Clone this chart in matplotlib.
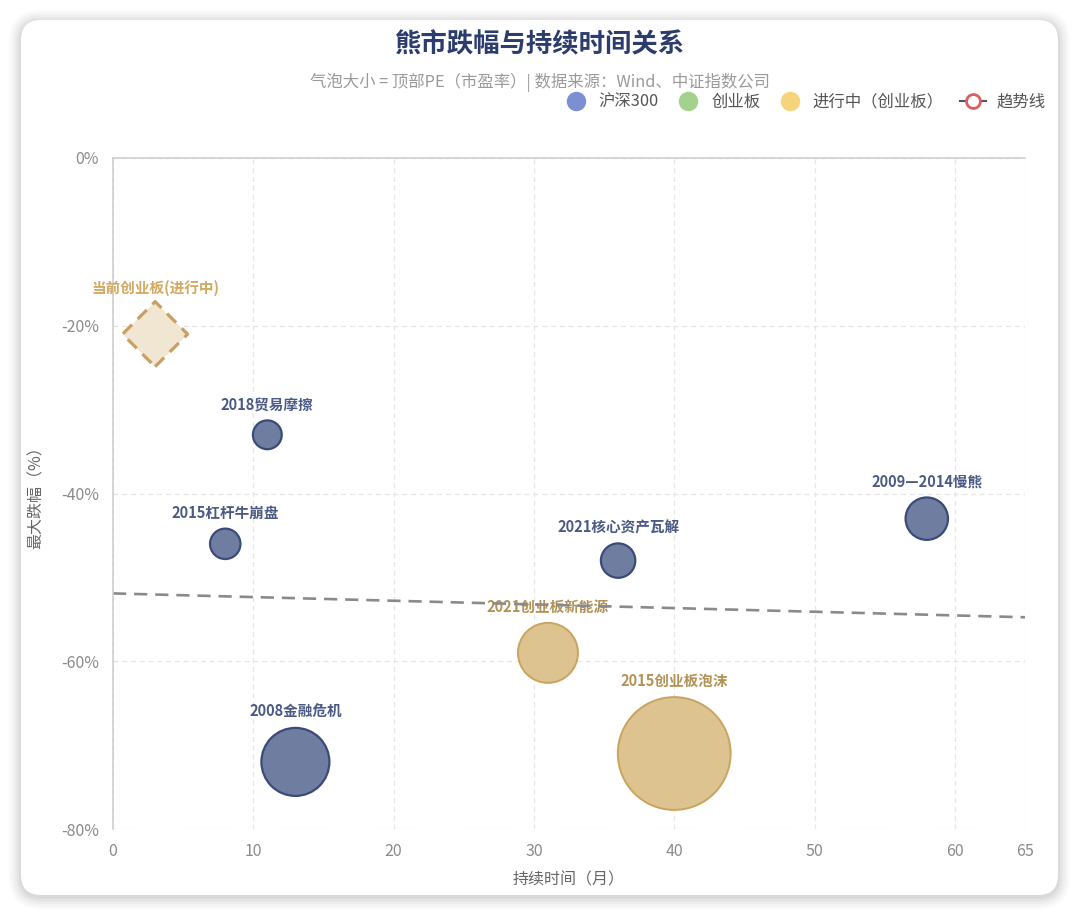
import matplotlib.pyplot as plt
import numpy as np
from matplotlib.patches import FancyBboxPatch
from matplotlib.lines import Line2D

plt.rcParams['font.family'] = ['Noto Sans CJK SC', 'DejaVu Sans']

# data: duration (months), max drawdown (%), top PE
hs_names = ['2008金融危机', '2015杠杆牛崩盘', '2018贸易摩擦', '2021核心资产瓦解', '2009—2014慢熊']
hs_months = [13, 8, 11, 36, 58]
hs_drop = [-72, -46, -33, -48, -43]
hs_pe = [85, 38, 36, 43, 53]

cy_names = ['2015创业板泡沫', '2021创业板新能源']
cy_months = [40, 31]
cy_drop = [-71, -59]
cy_pe = [141, 75]

cur_name = '当前创业板(进行中)'
cur_months = [3]
cur_drop = [-21]

x_ticks = [0, 10, 20, 30, 40, 50, 60, 65]
y_ticks = [0, -20, -40, -60, -80]

DPI = 100
fig = plt.figure(figsize=(10.8, 9.16), dpi=DPI)
fig.patch.set_facecolor('white')

# card with soft shadow
for i, a in enumerate([0.018, 0.022, 0.028, 0.035, 0.045]):
    g = 0.12 - i * 0.025
    sh = FancyBboxPatch((0.21 - g, 0.21 - g - 0.02), 10.37 + 2 * g, 8.75 + 2 * g,
                        boxstyle='round,pad=0,rounding_size=%f' % (0.2 + g),
                        transform=fig.dpi_scale_trans, facecolor='black',
                        edgecolor='none', alpha=a, zorder=0)
    fig.add_artist(sh)
card = FancyBboxPatch((0.21, 0.21), 10.37, 8.75, boxstyle='round,pad=0,rounding_size=0.2',
                      transform=fig.dpi_scale_trans, facecolor='white', edgecolor='none', zorder=0)
fig.add_artist(card)

ax = fig.add_axes([113 / 1080, 1 - 829 / 916, 912 / 1080, 671 / 916])
ax.set_facecolor('none')
ax.set_xlim(0, 65)
ax.set_ylim(-80, 0)


def diam_px(pe):
    return pe * 0.8


def size_pts(pe):
    return (diam_px(pe) * 72 / DPI) ** 2


# trend line from historical points
all_x = np.array(hs_months + cy_months)
all_y = np.array(hs_drop + cy_drop)
k, b = np.polyfit(all_x, all_y, 1)
tx = np.array([0, 65])
ax.plot(tx, k * tx + b, color='#8a8a8a', lw=1.9, dashes=(5, 3), zorder=2)

hs_face = '#6f7ea0'
hs_edge = '#3a4b78'
cy_face = '#dcc390'
cy_edge = '#c9a45e'

ax.scatter(hs_months, hs_drop, s=[size_pts(p) for p in hs_pe], c=hs_face,
           edgecolors=hs_edge, linewidths=1.6, zorder=3)
ax.scatter(cy_months, cy_drop, s=[size_pts(p) for p in cy_pe], c=cy_face,
           edgecolors=cy_edge, linewidths=1.4, zorder=3)
ax.scatter(cur_months, cur_drop, s=(46 * 0.72) ** 2 * 1.0, marker='D', c='#f1e6d2',
           edgecolors='#c9a063', linewidths=2.3, linestyle=(0, (4, 2.5)), zorder=3)

for n, x, y, p in zip(hs_names, hs_months, hs_drop, hs_pe):
    off = (diam_px(p) / 2 + 16) * 72 / DPI
    ax.annotate(n, (x, y), xytext=(0, off), textcoords='offset points', ha='center',
                va='center', fontsize=10.5, color='#4b5a84', fontweight='bold', zorder=5)
for n, x, y, p in zip(cy_names, cy_months, cy_drop, cy_pe):
    off = (diam_px(p) / 2 + 16) * 72 / DPI
    ax.annotate(n, (x, y), xytext=(0, off), textcoords='offset points', ha='center',
                va='center', fontsize=10.5, color='#b39255', fontweight='bold', zorder=1)
ax.annotate(cur_name, (cur_months[0], cur_drop[0]), xytext=(0, 46 * 72 / DPI),
            textcoords='offset points', ha='center', va='center', fontsize=10.5,
            color='#d3a862', fontweight='bold')

ax.set_xticks(x_ticks)
ax.set_xticklabels([str(v) for v in x_ticks])
ax.set_yticks(y_ticks)
ax.set_yticklabels(['%d%%' % v if v == 0 else '-%d%%' % abs(v) for v in y_ticks])
ax.tick_params(axis='both', length=0, colors='#8a8a8a', labelsize=11.5, pad=10)
ax.tick_params(axis='x', pad=10)
ax.grid(True, color='#e6e6e6', linestyle=(0, (4, 3)), lw=0.9)
ax.set_axisbelow(True)
for sp in ['right', 'bottom']:
    ax.spines[sp].set_visible(False)
ax.spines['left'].set_color('#cccccc')
ax.spines['top'].set_color('#cccccc')
ax.spines['left'].set_linewidth(1.1)
ax.spines['top'].set_linewidth(1.1)

ax.set_xlabel('持续时间（月）', fontsize=11.5, color='#666666', labelpad=8)
ax.set_ylabel('最大跌幅（%）', fontsize=11.5, color='#666666', labelpad=12)

fig.text(0.5, 1 - 45 / 916, '熊市跌幅与持续时间关系', ha='center', va='center',
         fontsize=19, fontweight='bold', color='#2c3c6c')
fig.text(0.5, 1 - 82 / 916, '气泡大小 = 顶部PE（市盈率）| 数据来源：Wind、中证指数公司',
         ha='center', va='center', fontsize=11.8, color='#9a9a9a')

handles = [
    Line2D([], [], ls='none', marker='o', ms=14, mfc='#7b8fd2', mec='none'),
    Line2D([], [], ls='none', marker='o', ms=14, mfc='#a3d18e', mec='none'),
    Line2D([], [], ls='none', marker='o', ms=14, mfc='#f5d47c', mec='none'),
    Line2D([], [], color='#555555', lw=1.5, marker='o', ms=10, mfc='white', mec='#d9605e', mew=2),
]
labels = ['沪深300', '创业板', '进行中（创业板）', '趋势线']
fig.legend(handles, labels, loc='center right', bbox_to_anchor=(1060 / 1080, 1 - 102 / 916),
           ncol=4, frameon=False, fontsize=11.8, labelcolor='#555555', handlelength=1.6,
           handletextpad=0.6, columnspacing=1.0)

fig.savefig('out.png', dpi=DPI)
